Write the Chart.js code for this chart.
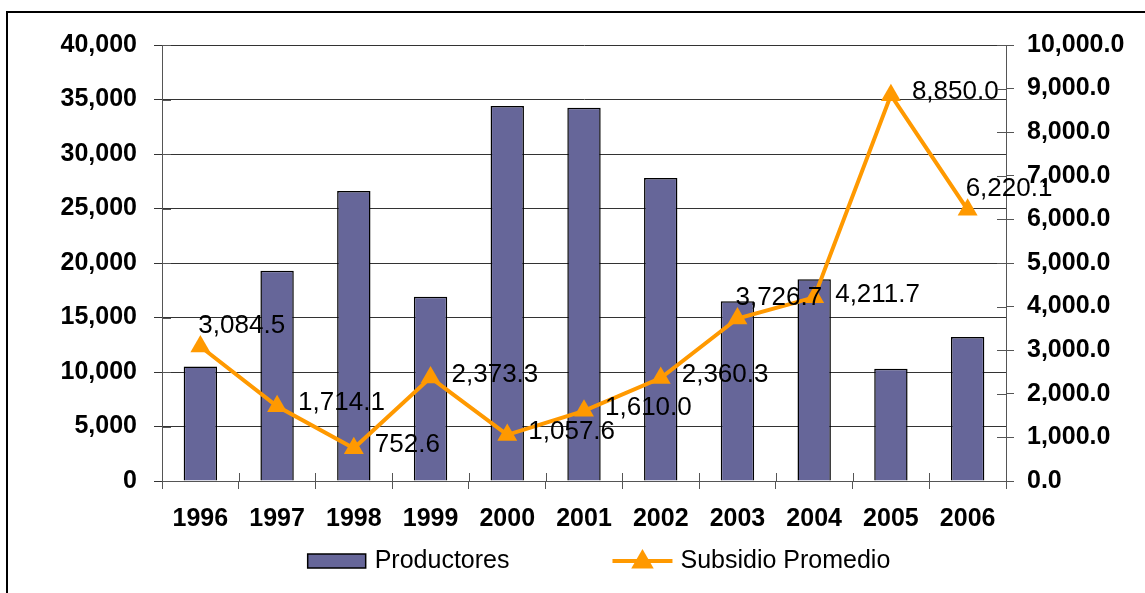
<!DOCTYPE html>
<html><head><meta charset="utf-8">
<script src="https://cdn.jsdelivr.net/npm/chart.js@4/dist/chart.umd.min.js"></script>
<style>html,body{margin:0;padding:0;background:#fff;}#wrap{width:1145px;height:593px;}</style>
</head><body><div id="wrap"><canvas id="c" width="1145" height="593"></canvas></div>
<script>
const years = ['1996','1997','1998','1999','2000','2001','2002','2003','2004','2005','2006'];
const productores = [10500, 19300, 26600, 16900, 34400, 34250, 27800, 16500, 18500, 10300, 13200];
const subsidioPromedio = [3084.5, 1714.1, 752.6, 2373.3, 1057.6, 1610.0, 2360.3, 3726.7, 4211.7, 8850.0, 6220.1];
const seriesNames = ['Productores', 'Subsidio Promedio'];
const leftMax = 40000, leftStep = 5000;
const rightMax = 10000, rightStep = 1000;

const FONT = "'Liberation Sans', Arial, sans-serif";
const BAR_COLOR = '#666699';
const LINE_COLOR = '#FF9900';
const GRID_COLOR = '#333';
const labelPlacement = ['above','right','right','right','right','right','right','above','right','right','above'];

const fmt0 = v => Math.round(v).toLocaleString('en-US');
const fmt1 = v => v.toLocaleString('en-US', {minimumFractionDigits:1, maximumFractionDigits:1});

function triangle(ctx, cx, cy, r){
  ctx.beginPath();
  for (let k=0;k<3;k++){ const a = k*2*Math.PI/3; const px = cx + Math.sin(a)*r, py = cy - Math.cos(a)*r; k?ctx.lineTo(px,py):ctx.moveTo(px,py); }
  ctx.closePath(); ctx.fill();
}

const frame = {
  id: 'frame',
  beforeDraw(chart){
    const ctx = chart.ctx;
    ctx.save();
    ctx.fillStyle = '#fff'; ctx.fillRect(0,0,chart.width,chart.height);
    ctx.strokeStyle = '#000'; ctx.lineWidth = 2;
    ctx.beginPath(); ctx.moveTo(7, chart.height + 5); ctx.lineTo(7, 12); ctx.lineTo(chart.width + 5, 12); ctx.stroke();
    ctx.restore();
  },
  afterDraw(chart){
    const ctx = chart.ctx, a = chart.chartArea;
    // inner halves of the crossing tick marks
    ctx.save(); ctx.strokeStyle = '#555'; ctx.lineWidth = 1;
    const n = years.length, w = (a.right - a.left)/n;
    ctx.beginPath();
    for (let i=0;i<=n;i++){ const px = Math.round(a.left + i*w) + 0.5; ctx.moveTo(px, a.bottom); ctx.lineTo(px, a.bottom - 8); }
    const yl = chart.scales.y, yr = chart.scales.y1;
    yl.ticks.forEach((t,i)=>{ const py = Math.round(yl.getPixelForTick(i)) + 0.5; ctx.moveTo(a.left, py); ctx.lineTo(a.left + 9, py); });
    yr.ticks.forEach((t,i)=>{ const py = Math.round(yr.getPixelForTick(i)) + 0.5; ctx.moveTo(a.right, py); ctx.lineTo(a.right - 9, py); });
    ctx.stroke();

    // legend
    ctx.font = '25px ' + FONT; ctx.fillStyle = '#000'; ctx.textBaseline = 'middle'; ctx.textAlign = 'left';
    const w1 = ctx.measureText(seriesNames[0]).width, w2 = ctx.measureText(seriesNames[1]).width;
    const sw1 = 58, sw2 = 60, g1 = 9, g2 = 8, gap = 103;
    const total = sw1 + g1 + w1 + gap + sw2 + g2 + w2;
    const cx = (a.left + a.right) / 2 + 15;
    const ly = 561;
    let x = cx - total / 2;
    ctx.fillStyle = BAR_COLOR; ctx.fillRect(x, ly - 7, sw1, 14);
    ctx.strokeStyle = '#000'; ctx.lineWidth = 1.5; ctx.strokeRect(x, ly - 7, sw1, 14);
    x += sw1 + g1;
    ctx.fillStyle = '#000'; ctx.fillText(seriesNames[0], x, ly);
    x += w1 + gap;
    ctx.strokeStyle = LINE_COLOR; ctx.lineWidth = 4;
    ctx.beginPath(); ctx.moveTo(x, ly); ctx.lineTo(x + sw2, ly); ctx.stroke();
    ctx.fillStyle = LINE_COLOR; triangle(ctx, x + sw2/2, ly + 1, 13);
    x += sw2 + g2;
    ctx.fillStyle = '#000'; ctx.fillText(seriesNames[1], x, ly);
    ctx.restore();
  }
};

const dataLabels = {
  id: 'dataLabels',
  afterDatasetsDraw(chart){
    const ctx = chart.ctx;
    const meta = chart.getDatasetMeta(1);
    ctx.save();
    ctx.font = '26px ' + FONT; ctx.fillStyle = '#000';
    ctx.textAlign = 'left'; ctx.textBaseline = 'middle';
    meta.data.forEach((pt, i) => {
      let x = pt.x + 21, y = pt.y - 3;
      if (labelPlacement[i] === 'above') { x = pt.x - 2; y = pt.y - 21; }
      ctx.fillText(fmt1(subsidioPromedio[i]), x, y);
    });
    ctx.restore();
  }
};

new Chart(document.getElementById('c'), {
  data: {
    labels: years,
    datasets: [
      { type: 'bar', label: seriesNames[0], data: productores, yAxisID: 'y', order: 1,
        backgroundColor: BAR_COLOR, borderColor: '#000', borderWidth: 1.5,
        barPercentage: 0.435, categoryPercentage: 1 },
      { type: 'line', label: seriesNames[1], data: subsidioPromedio, yAxisID: 'y1', order: 0,
        borderColor: LINE_COLOR, backgroundColor: LINE_COLOR, borderWidth: 4, tension: 0,
        pointStyle: 'triangle', pointRadius: 11.5, pointBorderWidth: 0, pointBackgroundColor: LINE_COLOR }
    ]
  },
  options: {
    responsive: false, animation: false, devicePixelRatio: 1,
    layout: { padding: { left: 20, right: 0, top: 45, bottom: 50 } },
    plugins: { tooltip: { enabled: false }, legend: { display: false } },
    scales: {
      x: {
        offset: true,
        grid: { offset: true, drawOnChartArea: false, drawTicks: true, tickLength: 8, color: '#555' },
        border: { color: '#555', width: 1 },
        ticks: { color: '#000', font: { family: FONT, size: 25, weight: 'bold' }, padding: 15, maxRotation: 0 },
        afterFit: s => { s.height = 62; }
      },
      y: {
        position: 'left', min: 0, max: leftMax,
        ticks: { stepSize: leftStep, color: '#000', font: { family: FONT, size: 25, weight: 'bold' }, padding: 17, callback: v => fmt0(v) },
        grid: { color: GRID_COLOR, lineWidth: 1, tickLength: 8, drawTicks: true },
        border: { color: '#555', width: 1 },
        afterFit: s => { s.width = 142; }
      },
      y1: {
        position: 'right', min: 0, max: rightMax,
        ticks: { stepSize: rightStep, color: '#000', font: { family: FONT, size: 25, weight: 'bold' }, padding: 13, callback: v => fmt1(v) },
        grid: { drawOnChartArea: false, tickLength: 8, color: '#555' },
        border: { color: '#555', width: 1 },
        afterFit: s => { s.width = 139; }
      }
    }
  },
  plugins: [frame, dataLabels]
});
</script></body></html>
